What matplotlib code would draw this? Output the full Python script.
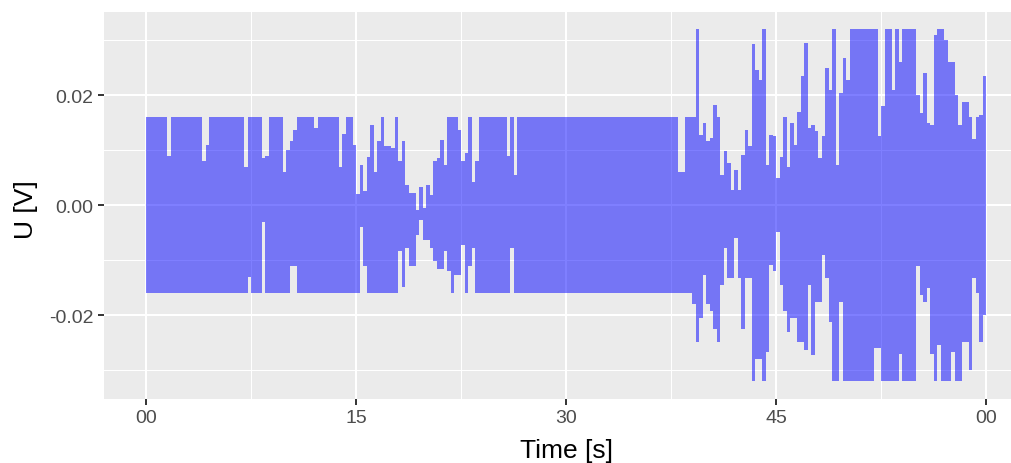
import numpy as np
import matplotlib.pyplot as plt

step_s = 0.25
upper_mv = [
    16, 16, 16, 16, 16, 16, 9, 16, 16, 16, 16, 16, 16, 16, 16, 16, 8, 11, 16, 16,
    16, 16, 16, 16, 16, 16, 16, 16, 7, 16, 16, 16, 16, 8.5, 9, 16, 16, 16, 16, 6,
    10, 11.6, 13.7, 16, 16, 16, 16, 16, 14, 16, 16, 16, 16, 16, 16, 7, 13, 16, 16, 11,
    2, 7.3, 2.5, 8.8, 14.6, 6, 11.6, 16, 10.7, 10.7, 10.4, 16, 8, 11.6, 3.7, 2.2, 2.2, -0.8, 3.4, -0.5,
    3.7, 1.9, 8, 8.5, 11.9, 7.3, 16, 16, 16, 13.7, 8, 9.5, 16, 4.3, 8, 16, 16, 16, 16, 16,
    16, 16, 16, 9, 16, 5.5, 16, 16, 16, 16, 16, 16, 16, 16, 16, 16, 16, 16, 16, 16,
    16, 16, 16, 16, 16, 16, 16, 16, 16, 16, 16, 16, 16, 16, 16, 16, 16, 16, 16, 16,
    16, 16, 16, 16, 16, 16, 16, 16, 16, 16, 16, 16, 6, 6, 16, 16, 16, 32, 12.8, 15,
    11.6, 12.2, 18.2, 16, 5.5, 9.8, 7.6, 2.8, 6.4, 2.8, 9.2, 13.7, 10.7, 29.3, 24.6, 22.8, 32, 7.3, 12.8, 12.5,
    4.9, 8.8, 16, 7, 15, 11, 17, 23.4, 29.5, 14, 14.6, 13.4, 8.5, 12.5, 25, 21, 32, 7.3, 20.4, 26.7,
    22.8, 32, 32, 32, 32, 32, 32, 32, 32, 12.5, 18, 32, 32, 21, 32, 26, 32, 32, 32, 32,
    20, 16.7, 24, 15, 14.6, 31, 32, 32, 30, 26, 26, 20, 14.6, 18.8, 18.8, 16, 12, 16, 16.4, 23.4,
    8,
]
lower_mv = [
    -16, -16, -16, -16, -16, -16, -16, -16, -16, -16, -16, -16, -16, -16, -16, -16, -16, -16, -16, -16,
    -16, -16, -16, -16, -16, -16, -16, -16, -16, -13, -16, -16, -16, -3, -16, -16, -16, -16, -16, -16,
    -16, -11, -11, -16, -16, -16, -16, -16, -16, -16, -16, -16, -16, -16, -16, -16, -16, -16, -16, -16,
    -16, -4, -11, -16, -16, -16, -16, -16, -16, -16, -16, -16, -8.4, -14.8, -7.8, -11, -11, -5.4, -2.7, -6.3,
    -6.3, -7.8, -10.2, -11.5, -11.5, -8.4, -12, -16, -12.7, -12.7, -7.2, -16, -11, -7.8, -16, -16, -16, -16, -16, -16,
    -16, -16, -16, -16, -7.8, -16, -16, -16, -16, -16, -16, -16, -16, -16, -16, -16, -16, -16, -16, -16,
    -16, -16, -16, -16, -16, -16, -16, -16, -16, -16, -16, -16, -16, -16, -16, -16, -16, -16, -16, -16,
    -16, -16, -16, -16, -16, -16, -16, -16, -16, -16, -16, -16, -16, -16, -16, -16, -18, -24.8, -20.5, -12.7,
    -18, -19.3, -22.4, -24.8, -14.5, -7.8, -13.3, -13.3, -6, -13.3, -22.4, -13.3, -13.3, -32, -28, -28, -32, -26.6, -10.8, -12,
    -4.8, -14.5, -19.3, -23, -20.5, -20.5, -24.8, -24.8, -26.3, -14.5, -27.2, -17.5, -17.5, -9, -13.3, -21.2, -32, -32, -17.5, -32,
    -32, -32, -32, -32, -32, -32, -32, -32, -26, -26, -32, -32, -32, -32, -32, -27, -32, -32, -32, -32,
    -11, -16.3, -17.5, -15, -27, -32, -25.4, -32, -32, -32, -26.6, -32, -32, -24.8, -24.8, -30, -13.3, -16, -24.8, -20,
    -15,
]

x_ticks = [0, 15, 30, 45, 60]
x_tick_labels = ['00', '15', '30', '45', '00']
y_ticks = [-0.02, 0.0, 0.02]
y_tick_labels = ['-0.02', '0.00', '0.02']

plt.rcParams['font.family'] = ['Liberation Sans', 'DejaVu Sans']

t = np.arange(len(upper_mv)) * step_s
upper_v = np.array(upper_mv) / 1000
lower_v = np.array(lower_mv) / 1000

fig = plt.figure(figsize=(10.11, 4.64), dpi=100)
# the panel runs past the right edge of the picture, as in the original crop
ax = fig.add_axes([104 / 1011, 1 - 400 / 464, 924 / 1011, 387.5 / 464])
ax.set_facecolor('#EBEBEB')

# dense signal drawn as the band between its upper and lower swings
ax.fill_between(t, lower_v, upper_v, step='post', color='blue', alpha=0.5, linewidth=0)

ax.set_xlim(-3, 63)
ax.set_ylim(-0.0352, 0.0352)
ax.set_xticks(x_ticks)
ax.set_xticklabels(x_tick_labels)
ax.set_xticks([7.5, 22.5, 37.5, 52.5], minor=True)
ax.set_yticks(y_ticks)
ax.set_yticklabels(y_tick_labels)
ax.set_yticks([-0.03, -0.01, 0.01, 0.03], minor=True)

ax.grid(which='major', color='white', linewidth=1.45)
ax.grid(which='minor', color='white', linewidth=0.75)
ax.set_axisbelow(True)
for s in ax.spines.values():
    s.set_visible(False)

ax.tick_params(which='major', length=4, width=1.4, color='#333333',
               labelsize=14, labelcolor='#4D4D4D', pad=3.5)
ax.tick_params(which='minor', length=0)

ax.set_xlabel('Time [s]', fontsize=19)
ax.set_ylabel('U [V]', fontsize=19)
ax.xaxis.set_label_coords(0.5, -0.1)
ax.yaxis.set_label_coords(-0.071, 0.49)

plt.savefig('out.png', dpi=100)
